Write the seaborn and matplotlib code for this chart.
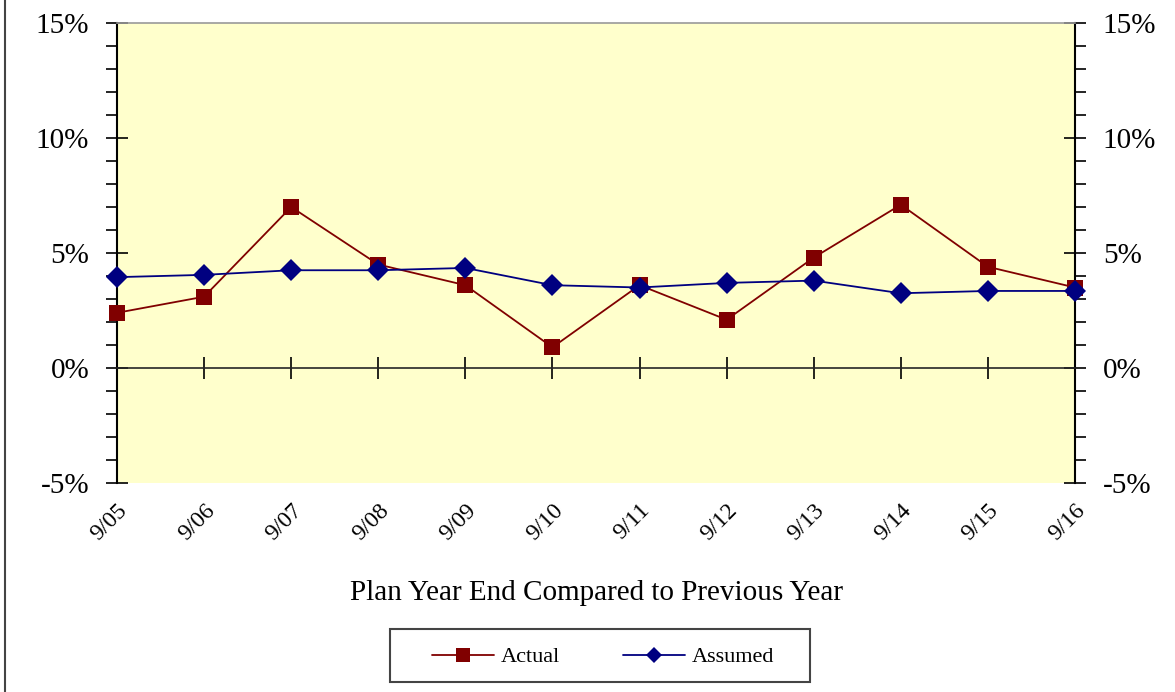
import pandas as pd
import matplotlib.pyplot as plt
import matplotlib.ticker as mticker
from matplotlib.lines import Line2D
from matplotlib.patches import Rectangle
import seaborn as sns

# 데이터
periods = ["9/05", "9/06", "9/07", "9/08", "9/09", "9/10",
           "9/11", "9/12", "9/13", "9/14", "9/15", "9/16"]
actual = [2.4, 3.1, 7.0, 4.5, 3.6, 0.9, 3.6, 2.1, 4.8, 7.1, 4.4, 3.5]
assumed = [3.95, 4.05, 4.25, 4.25, 4.35, 3.6, 3.5, 3.7, 3.8, 3.25, 3.35, 3.35]

df = pd.DataFrame({
    "pos": list(range(len(periods))) * 2,
    "value": actual + assumed,
    "series": ["Actual"] * len(actual) + ["Assumed"] * len(assumed),
})

sns.set_style("white")
plt.rcParams["font.family"] = ["Liberation Serif", "DejaVu Serif"]
plt.rcParams["axes.unicode_minus"] = False
plt.rcParams["text.color"] = "black"
plt.rcParams["axes.labelcolor"] = "black"
plt.rcParams["xtick.color"] = "black"
plt.rcParams["ytick.color"] = "black"

fig = plt.figure(figsize=(11.75, 6.92), dpi=100)
ax = fig.add_axes([117 / 1175, 1 - 483 / 692, (1075 - 117) / 1175, (483 - 23) / 692])
ax.set_facecolor("#FFFFCC")

sns.lineplot(
    data=df, x="pos", y="value", hue="series", style="series",
    palette={"Actual": "#800000", "Assumed": "#000080"},
    markers={"Actual": "s", "Assumed": "D"}, dashes=False,
    markersize=11, markeredgewidth=0, linewidth=1.3, ax=ax, legend=False,
    clip_on=False, zorder=5,
)

ax.set_xlim(0, len(periods) - 1)
ax.set_ylim(-5, 15)

# y축 눈금
ax.yaxis.set_major_locator(mticker.MultipleLocator(5))
ax.yaxis.set_minor_locator(mticker.MultipleLocator(1))
ax.yaxis.set_major_formatter(mticker.PercentFormatter(decimals=0))
ax.tick_params(axis="y", which="major", direction="inout", length=16, width=1.2,
               left=True, right=True, labelleft=True, labelright=True,
               labelsize=21, pad=12, colors="black")
ax.tick_params(axis="y", which="minor", direction="out", length=8, width=1.2,
               left=True, right=True)

# x축: 0% 선 위의 눈금
ax.spines["bottom"].set_position(("data", 0))
ax.spines["bottom"].set_linewidth(1.2)
ax.set_xticks(range(len(periods)))
ax.tick_params(axis="x", which="major", direction="inout", length=16, width=1.2,
               bottom=True, labelbottom=False)
ax.set_xlabel("")
ax.set_ylabel("")

for side in ["left", "right"]:
    ax.spines[side].set_color("black")
    ax.spines[side].set_linewidth(1.5)
ax.spines["top"].set_color("#999999")
ax.spines["top"].set_linewidth(1.2)

# x축 라벨 (아래쪽)
sec = ax.secondary_xaxis("bottom")
sec.set_xticks(range(len(periods)))
sec.set_xticklabels(periods, rotation=45, ha="right", rotation_mode="anchor", fontsize=17)
sec.tick_params(length=0, pad=12, bottom=False)
sec.spines["bottom"].set_visible(False)
sec.set_xlabel("Plan Year End Compared to Previous Year", fontsize=21, labelpad=26)

# 범례
handles = [
    Line2D([], [], color="#800000", marker="s", markersize=10, markeredgewidth=0, lw=1.3),
    Line2D([], [], color="#000080", marker="D", markersize=8, markeredgewidth=0, lw=1.3),
]
fig.legend(handles, ["Actual", "Assumed"], loc="center", ncol=2,
           bbox_to_anchor=(603 / 1175, 1 - 657 / 692), frameon=False,
           fontsize=16, handlelength=2.8, handletextpad=0.3, columnspacing=2.8)
fig.add_artist(Rectangle((390 / 1175, 10 / 692), 420 / 1175, 53 / 692,
                         transform=fig.transFigure, fill=False,
                         edgecolor="#444444", lw=1.5))

# 왼쪽 테두리
fig.add_artist(Line2D([5 / 1175, 5 / 1175], [0, 1], transform=fig.transFigure,
                      color="#444444", lw=1.5))

fig.savefig("out.png", dpi=100)
